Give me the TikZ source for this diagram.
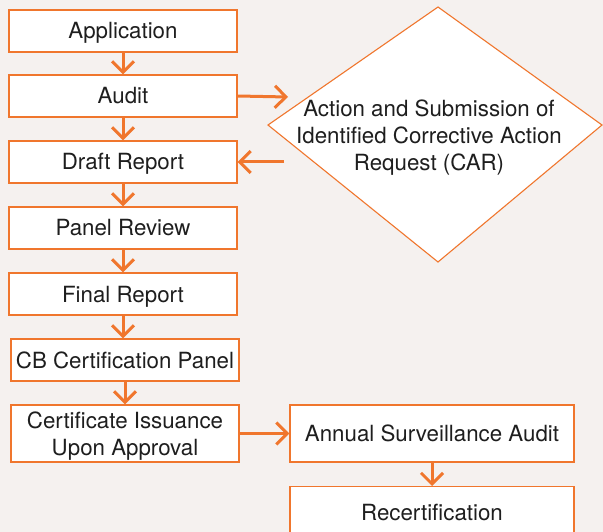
\documentclass[tikz,border=0pt]{standalone}
\usepackage{fontspec}
\setmainfont{TeX Gyre Heros}
\usetikzlibrary{arrows.meta,shapes.geometric}
\definecolor{orng}{RGB}{240,118,45}
\definecolor{bgc}{RGB}{245,241,239}
\definecolor{txt}{RGB}{30,30,30}
\tikzset{
  lbl/.style={font=\fontsize{22.3}{27}\selectfont,text=txt,align=center},
  stepbox/.style={lbl,draw=orng,line width=1.2pt,fill=white,rectangle,minimum width=228pt,minimum height=42pt,inner sep=0pt,text height=16pt,text depth=0pt},
  flow/.style={draw=orng,line width=3pt,-{Straight Barb[length=11pt,width=22pt,line width=3pt]}},
}
\begin{document}
\begin{tikzpicture}[x=1pt,y=-1pt]
\useasboundingbox (0,0) rectangle (603,532);
\clip (0,0) rectangle (603,532);
\fill[bgc] (0,0) rectangle (603,532);
\node[stepbox] (app) at (123,31) {Application};
\node[stepbox] (aud) at (123,96) {Audit};
\node[stepbox] (draft) at (123,162) {Draft Report};
\node[stepbox] (panel) at (123,228) {Panel Review};
\node[stepbox] (final) at (123,294) {Final Report};
\node[stepbox] (cb) at (125,360) {CB Certification Panel};
\node[stepbox,minimum height=57pt,text height=43pt] (cert) at (125,433.5) {Certificate Issuance\\Upon Approval};
\node[stepbox,minimum width=284pt,minimum height=57pt] (ann) at (432,433.5) {Annual Surveillance Audit};
\node[stepbox,minimum width=284pt,minimum height=57pt,anchor=north] (recert) at (432,486) {};
\node[lbl,text height=16pt,text depth=0pt] (recertlbl) at (432,512) {Recertification};
\draw[draw=orng,line width=1.1pt,fill=white] (438,7) coordinate (dt) -- (602,125) coordinate (dr) -- (438,262) coordinate (db) -- (268,125) coordinate (dl) -- cycle;
\node[lbl] (car) at (429,138) {Action and Submission of\\Identified Corrective Action\\Request (CAR)};
\coordinate (a1) at (288,97);
\coordinate (a2) at (284,162);
\draw[flow] (app.south) -- (aud.north);
\draw[flow] (aud.south) -- (draft.north);
\draw[flow] (draft.south) -- (panel.north);
\draw[flow] (panel.south) -- (final.north);
\draw[flow] (final.south) -- ([xshift=-2pt]cb.north);
\draw[flow] (cb.south) -- (cert.north);
\draw[flow] (aud.east) -- (a1);
\draw[flow] (a2) -- (draft.east);
\draw[flow] (cert.east) -- (ann.west);
\draw[flow] (ann.south) -- (recert.north);
\end{tikzpicture}
\end{document}
